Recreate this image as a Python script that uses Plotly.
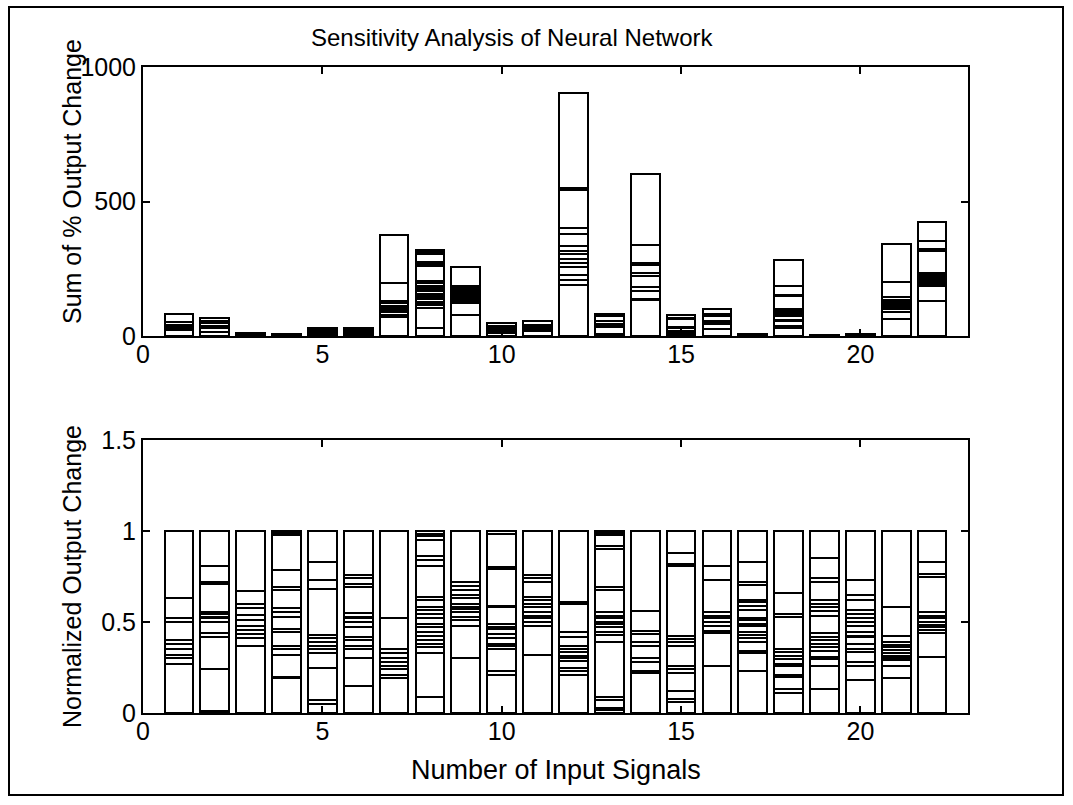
import plotly.graph_objects as go
from plotly.subplots import make_subplots

# ---------------- data ----------------
inputs = list(range(1, 23))

# total height of each stacked bar in the upper panel (sum of % output change)
totals = [80, 68, 12, 6, 28, 28, 376, 320, 258, 48, 56, 905,
          82, 604, 78, 100, 6, 282, 3, 6, 342, 424]

# cumulative segment boundaries of each bar, as fractions of the bar total
b01 = [0.27, 0.30, 0.32, 0.35, 0.38, 0.40, 0.50, 0.52, 0.63]
b02 = [0.01, 0.24, 0.42, 0.44, 0.50, 0.52, 0.53, 0.545, 0.555, 0.71, 0.72, 0.81]
b03 = [0.37, 0.41, 0.435, 0.455, 0.48, 0.51, 0.54, 0.575, 0.60, 0.67]
b04 = [0.19, 0.20, 0.32, 0.35, 0.37, 0.445, 0.46, 0.53, 0.555, 0.575, 0.675, 0.69, 0.785, 0.98, 0.99]
b05 = [0.05, 0.07, 0.25, 0.33, 0.35, 0.37, 0.39, 0.41, 0.43, 0.68, 0.73, 0.83]
b06 = [0.15, 0.30, 0.35, 0.37, 0.40, 0.415, 0.47, 0.50, 0.52, 0.53, 0.55, 0.69, 0.71, 0.74, 0.76]
b07 = [0.19, 0.21, 0.24, 0.26, 0.28, 0.30, 0.33, 0.35, 0.52]
b08 = [0.09, 0.33, 0.36, 0.38, 0.40, 0.425, 0.445, 0.47, 0.49, 0.52, 0.545, 0.565, 0.58,
       0.62, 0.64, 0.81, 0.84, 0.86, 0.95, 0.97, 0.985]
b09 = [0.30, 0.48, 0.51, 0.53, 0.555, 0.57, 0.585, 0.60, 0.63, 0.65, 0.675, 0.70, 0.72]
b10 = [0.21, 0.23, 0.35, 0.37, 0.38, 0.41, 0.435, 0.46, 0.47, 0.49, 0.58, 0.59, 0.79, 0.80, 0.985]
b11 = [0.32, 0.48, 0.50, 0.52, 0.535, 0.555, 0.58, 0.60, 0.62, 0.64, 0.72, 0.74, 0.76]
b12 = [0.21, 0.23, 0.25, 0.285, 0.30, 0.315, 0.335, 0.35, 0.37, 0.42, 0.445, 0.60, 0.61]
b13 = [0.015, 0.03, 0.07, 0.09, 0.39, 0.43, 0.445, 0.47, 0.49, 0.50, 0.52, 0.535, 0.555,
       0.675, 0.695, 0.90, 0.915, 0.98, 0.99]
b14 = [0.22, 0.23, 0.28, 0.30, 0.37, 0.39, 0.435, 0.45, 0.56]
b15 = [0.06, 0.075, 0.12, 0.22, 0.24, 0.26, 0.37, 0.39, 0.405, 0.425, 0.805, 0.82, 0.88]
b16 = [0.26, 0.44, 0.45, 0.48, 0.50, 0.52, 0.535, 0.555, 0.73, 0.81]
b17 = [0.23, 0.33, 0.34, 0.39, 0.41, 0.43, 0.445, 0.48, 0.49, 0.51, 0.52, 0.565, 0.59,
       0.61, 0.62, 0.705, 0.72, 0.83]
b18 = [0.11, 0.13, 0.20, 0.21, 0.26, 0.27, 0.295, 0.315, 0.335, 0.35, 0.53, 0.545, 0.66]
b19 = [0.13, 0.26, 0.295, 0.31, 0.34, 0.36, 0.38, 0.40, 0.42, 0.44, 0.535, 0.56, 0.58,
       0.60, 0.62, 0.72, 0.74, 0.85]
b20 = [0.18, 0.26, 0.28, 0.335, 0.35, 0.38, 0.415, 0.425, 0.445, 0.48, 0.50, 0.52, 0.545,
       0.565, 0.62, 0.65, 0.73]
b21 = [0.19, 0.26, 0.29, 0.30, 0.315, 0.33, 0.345, 0.36, 0.375, 0.39, 0.425, 0.585]
b22 = [0.31, 0.44, 0.455, 0.47, 0.485, 0.50, 0.52, 0.535, 0.555, 0.745, 0.765, 0.83]

boundaries = [b01, b02, b03, b04, b05, b06, b07, b08, b09, b10, b11,
              b12, b13, b14, b15, b16, b17, b18, b19, b20, b21, b22]

x_ticks = [0, 5, 10, 15, 20]
top_y_ticks = [0, 500, 1000]
bot_y_ticks = [0, 0.5, 1, 1.5]

# ---------------- build segments ----------------
segments = []
for b in boundaries:
    cum = [0.0] + list(b) + [1.0]
    segments.append([cum[k + 1] - cum[k] for k in range(len(cum) - 1)])
n_layers = max(len(s) for s in segments)
for s in segments:
    s.extend([0.0] * (n_layers - len(s)))

FONT = "Liberation Sans, Arial, sans-serif"
TICK_SIZE = 25

fig = make_subplots(rows=2, cols=1, vertical_spacing=0.0)

for k in range(n_layers):
    top_vals = [totals[i] * segments[i][k] for i in range(len(inputs))]
    bot_vals = [segments[i][k] for i in range(len(inputs))]
    common = dict(marker=dict(color="white", line=dict(color="black", width=2)),
                  width=0.8, showlegend=False, hoverinfo="skip")
    fig.add_trace(go.Bar(x=inputs, y=top_vals, **common), row=1, col=1)
    fig.add_trace(go.Bar(x=inputs, y=bot_vals, **common), row=2, col=1)

W, H = 1073, 805
L, R, T, B = 143, 105, 67, 92
ph = H - T - B
pw = W - L - R

def py(y):  # pixel y -> paper y
    return (H - B - y) / ph

def px(x):  # pixel x -> paper x
    return (x - L) / pw

axis_common = dict(showline=True, linecolor="black", linewidth=2, mirror="ticks",
                   ticks="inside", ticklen=7, tickwidth=2, tickcolor="black",
                   showgrid=False, zeroline=False,
                   tickfont=dict(family=FONT, size=TICK_SIZE, color="black"))

fig.update_xaxes(range=[0, 23], tickvals=x_ticks, ticktext=[str(v) for v in x_ticks],
                 ticklabelstandoff=-5, **axis_common)
fig.update_yaxes(range=[0, 1000], tickvals=top_y_ticks,
                 ticktext=[str(v) for v in top_y_ticks], row=1, col=1, **axis_common)
fig.update_yaxes(range=[0, 1.5], tickvals=bot_y_ticks,
                 ticktext=["0", "0.5", "1", "1.5"], row=2, col=1, **axis_common)

fig.update_layout(
    xaxis=dict(domain=[0, 1]), xaxis2=dict(domain=[0, 1]),
    yaxis=dict(domain=[py(336), 1.0]),
    yaxis2=dict(domain=[0.0, py(440)]),
)

fig.update_layout(
    width=W, height=H, barmode="stack", bargap=0.2,
    margin=dict(l=L, r=R, t=T, b=B),
    paper_bgcolor="white", plot_bgcolor="white",
    font=dict(family=FONT, color="black"),
    annotations=[
        dict(text="Sensitivity Analysis of Neural Network", x=px(512), y=py(38),
             xref="paper", yref="paper", showarrow=False,
             font=dict(family=FONT, size=24, color="black"), xanchor="center", yanchor="middle"),
        dict(text="Sum of % Output Change", x=px(72), y=py(182), textangle=-90,
             xref="paper", yref="paper", showarrow=False,
             font=dict(family=FONT, size=25, color="black"), xanchor="center", yanchor="middle"),
        dict(text="Normalized Output Change", x=px(72), y=py(577), textangle=-90,
             xref="paper", yref="paper", showarrow=False,
             font=dict(family=FONT, size=25, color="black"), xanchor="center", yanchor="middle"),
        dict(text="Number of Input Signals", x=px(556), y=py(770),
             xref="paper", yref="paper", showarrow=False,
             font=dict(family=FONT, size=27, color="black"), xanchor="center", yanchor="middle"),
    ],
    shapes=[dict(type="rect", xref="paper", yref="paper",
                 x0=px(9), x1=px(1063), y0=py(795), y1=py(7),
                 line=dict(color="black", width=2), fillcolor="rgba(0,0,0,0)", layer="below")],
)

fig.write_html("out.html")
